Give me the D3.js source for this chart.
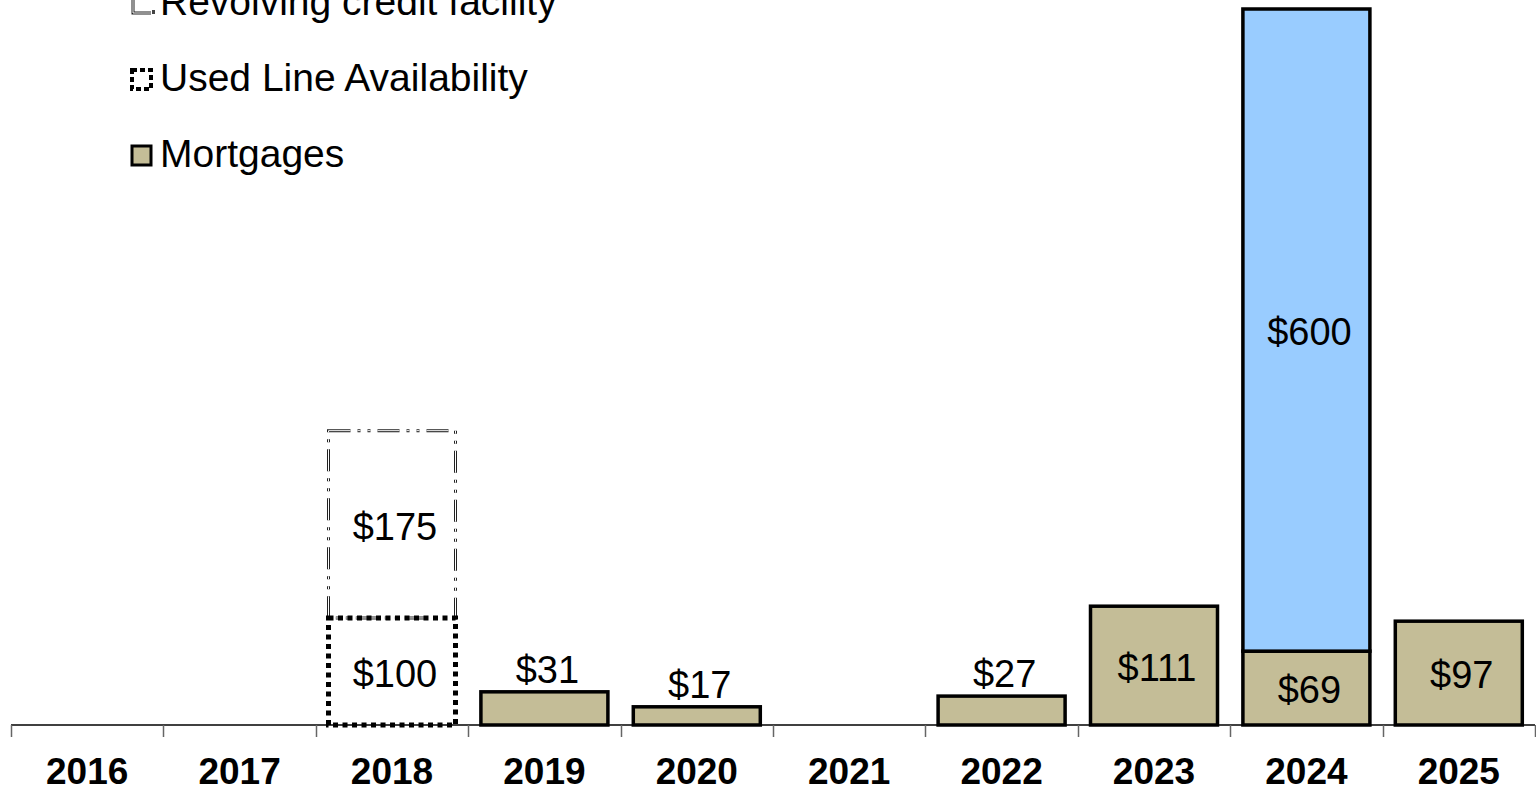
<!DOCTYPE html>
<html lang="en">
<head>
<meta charset="UTF-8">
<title>Debt maturities</title>
<style>
  body { margin: 0; background: #fff; }
  text { font-family: Arial, "Liberation Sans", sans-serif; fill: #000; }
</style>
</head>
<body>
<svg width="1536" height="788"></svg>
<script src="https://d3js.org/d3.v7.min.js"></script>
<script>
  // data
  var years = ['2016', '2017', '2018', '2019', '2020', '2021', '2022', '2023', '2024', '2025']
  var mortgages = [0, 0, 0, 31, 17, 0, 27, 111, 69, 97]
  var usedLine = [0, 0, 100, 0, 0, 0, 0, 0, 0, 0]
  var revolving = [0, 0, 175, 0, 0, 0, 0, 0, 0, 0]
  var termLoan = [0, 0, 0, 0, 0, 0, 0, 0, 600, 0]
  var legendNames = ['Revolving credit facility', 'Used Line Availability', 'Mortgages']

  var svg = d3.select('svg')
  var base = 725

  var x = d3.scaleBand().domain(years).range([11, 1535])
    .paddingInner(1 / 6).paddingOuter(1 / 12)
  var y = d3.scaleLinear().domain([0, 669]).range([base, 9])
  var step = x.step()

  // styles per series
  var series = [
    { key: 'mortgages', values: mortgages, fill: '#C4BD97', stroke: '#000', width: 3.5, dash: null },
    { key: 'usedLine', values: usedLine, fill: 'none', stroke: '#000', width: 5, dash: '5 4.5' },
    { key: 'revolving', values: revolving, fill: 'none', stroke: '#000', width: 3, dash: '22 7 3 7 3 7', double: true },
    { key: 'termLoan', values: termLoan, fill: '#99CCFF', stroke: '#000', width: 3.5, dash: null }
  ]

  // build stacked segments
  var segs = []
  years.forEach(function (yr, i) {
    var acc = 0
    series.forEach(function (s) {
      var v = s.values[i]
      if (v > 0) {
        segs.push({ year: yr, s: s, v: v, y0: acc, y1: acc + v })
        acc += v
      }
    })
  })

  // axis line and ticks
  svg.append('line').attr('x1', 11).attr('x2', 1535).attr('y1', base).attr('y2', base)
    .attr('stroke', '#000').attr('stroke-width', 1.5)
  var tickX = years.map(function (d) { return x(d) - step / 12 })
  tickX.push(x(years[years.length - 1]) + x.bandwidth() + step / 12)
  svg.selectAll('.tick').data(tickX).enter().append('line')
    .attr('x1', function (d) { return Math.round(d) + 0.5 })
    .attr('x2', function (d) { return Math.round(d) + 0.5 })
    .attr('y1', base).attr('y2', base + 12)
    .attr('stroke', '#666').attr('stroke-width', 1.5)

  // bars (revolving drawn before used line so the dots sit on top)
  var g = svg.append('g')
  var order = segs.slice().sort(function (a, b) {
    return (a.s.key === 'revolving' ? 0 : 1) - (b.s.key === 'revolving' ? 0 : 1)
  })
  order.forEach(function (d) {
    var r = g.append('rect')
      .attr('x', x(d.year)).attr('width', x.bandwidth())
      .attr('y', y(d.y1)).attr('height', y(d.y0) - y(d.y1))
      .attr('fill', d.s.fill).attr('stroke', d.s.stroke)
      .attr('stroke-width', d.s.width)
    if (d.s.dash) r.attr('stroke-dasharray', d.s.dash)
    if (d.s.double) {
      r.attr('stroke', '#222')
      g.append('rect')
        .attr('x', x(d.year)).attr('width', x.bandwidth())
        .attr('y', y(d.y1)).attr('height', y(d.y0) - y(d.y1))
        .attr('fill', 'none').attr('stroke', '#fff').attr('stroke-width', 1)
        .attr('stroke-dasharray', d.s.dash)
    }
  })

  // value labels
  svg.selectAll('.val').data(segs).enter().append('text')
    .attr('class', 'val')
    .attr('x', function (d) { return x(d.year) + x.bandwidth() / 2 + 3 })
    .attr('y', function (d) {
      var h = y(d.y0) - y(d.y1)
      if (h < 40) return y(d.y1) - 22
      return (y(d.y0) + y(d.y1)) / 2 + 2
    })
    .attr('dy', '0.35em')
    .attr('text-anchor', 'middle')
    .style('font-size', '38px')
    .text(function (d) { return '$' + d.v })

  // year labels
  svg.selectAll('.yr').data(years).enter().append('text')
    .attr('x', function (d) { return x(d) + x.bandwidth() / 2 })
    .attr('y', 784)
    .attr('text-anchor', 'middle')
    .style('font-size', '37px').style('font-weight', 'bold')
    .text(function (d) { return d })

  // legend
  var legStyle = [series[2], series[1], series[0]]
  var leg = svg.selectAll('.leg').data(legendNames).enter().append('g')
    .attr('transform', function (d, i) { return 'translate(131,' + (15 + i * 76) + ')' })
  leg.each(function (d, i) {
    var s = legStyle[i]
    var gg = d3.select(this)
    if (s.double) {
      // only the lower-left corner of this marker shows in the picture
      gg.append('path').attr('d', 'M2,-24V-2H20')
        .attr('fill', 'none').attr('stroke', '#222').attr('stroke-width', 3)
      gg.append('path').attr('d', 'M2,-24V-2H20')
        .attr('fill', 'none').attr('stroke', '#fff').attr('stroke-width', 1)
      gg.append('rect').attr('x', 21).attr('y', -5).attr('width', 3).attr('height', 4).attr('fill', '#444')
    } else {
      var r = gg.append('rect').attr('x', 1).attr('y', -21).attr('width', 19).attr('height', 19)
        .attr('fill', s.fill).attr('stroke', s.stroke).attr('stroke-width', s.dash ? 4 : 3)
      if (s.dash) r.attr('stroke-dasharray', '5 3')
    }
    gg.append('text').attr('x', 29).attr('y', 0)
      .style('font-size', '39px').text(d)
  })
</script>
</body>
</html>
